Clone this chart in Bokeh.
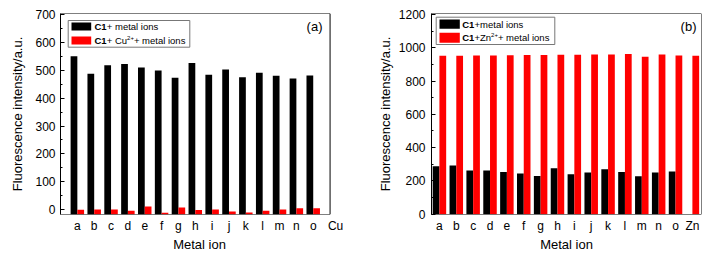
from bokeh.plotting import figure
from bokeh.layouts import row
from bokeh.models import Range1d, FixedTicker, SingleIntervalTicker, Label, BoxAnnotation, ColumnDataSource
from bokeh.embed import file_html
from bokeh.resources import INLINE

# ---------------- data ----------------
cats_a = ["a", "b", "c", "d", "e", "f", "g", "h", "i", "j", "k", "l", "m", "n", "o"]
extra_a = "Cu"
black_a = [550, 487, 518, 522, 510, 499, 473, 526, 484, 502, 475, 491, 480, 470, 481]
red_a = [0, 1, 1, -4, 12, -11, 8, -1, 1, -6, -10, -4, 1, 5, 5]

cats_b = ["a", "b", "c", "d", "e", "f", "g", "h", "i", "j", "k", "l", "m", "n", "o", "Zn"]
black_b = [288, 292, 262, 262, 254, 244, 230, 276, 240, 250, 270, 254, 228, 250, 256, 0]
red_b = [952, 952, 954, 954, 955, 956, 956, 958, 958, 960, 960, 962, 946, 960, 953, 952]

FONT = "Liberation Sans"
H = 201                   # frame height in px
FIG_W, FIG_H = 358, 261
BW = 0.4                  # bar width (category units)
LEG = "9.5px"


def make_fig(cats, black, red, xr, yr, box_r, interval, border_left, border_right,
             ylabel_standoff, tick_standoff, base, tick_pos, tick_labels):
    p = figure(width=FIG_W, height=FIG_H, output_backend="svg", toolbar_location=None,
               x_range=Range1d(*xr), y_range=Range1d(*yr),
               min_border_left=border_left, min_border_right=border_right,
               min_border_top=13, min_border_bottom=FIG_H - 13 - H)
    p.tags = [FIG_W - border_left - border_right]
    p.background_fill_color = "white"
    p.border_fill_color = "white"
    p.outline_line_color = None
    p.xgrid.visible = False
    p.ygrid.visible = False

    xs = list(range(len(cats)))
    src = ColumnDataSource(dict(
        xb=[x - BW / 2 for x in xs],
        xr=[x + BW / 2 for x in xs],
        black=black, red=red,
        base=[base] * len(cats)))
    p.vbar(x="xb", width=BW, bottom="base", top="black", source=src,
           fill_color="black", line_color=None)
    p.vbar(x="xr", width=BW, bottom="base", top="red", source=src,
           fill_color="#ff0000", line_color=None)

    # frame box (drawn so that it can stop short of the last tick label)
    p.add_layout(BoxAnnotation(left=xr[0], right=box_r, bottom=yr[0], top=yr[1],
                               fill_alpha=0, line_color="black", line_width=1,
                               line_alpha=1, line_dash="solid", editable=False))

    # x axis
    p.xaxis.ticker = FixedTicker(ticks=tick_pos)
    p.xaxis.major_label_overrides = {t: c for t, c in zip(tick_pos, tick_labels)}
    p.xaxis.major_tick_out = 0
    p.xaxis.major_tick_in = 0
    p.xaxis.major_tick_line_color = None
    p.xaxis.minor_tick_line_color = None
    p.xaxis.axis_line_color = None
    p.xaxis.major_label_standoff = 4
    p.xaxis.axis_label = "Metal ion"
    p.xaxis.axis_label_standoff = 1

    # y axis
    p.yaxis.ticker = SingleIntervalTicker(interval=interval, num_minor_ticks=2)
    p.yaxis.major_tick_in = 4
    p.yaxis.major_tick_out = 0
    p.yaxis.minor_tick_in = 2
    p.yaxis.minor_tick_out = 0
    p.yaxis.major_tick_line_color = "black"
    p.yaxis.minor_tick_line_color = "black"
    p.yaxis.axis_line_color = "black"
    p.yaxis.major_label_standoff = tick_standoff
    p.yaxis.axis_label = "Fluorescence intensity/a.u."
    p.yaxis.axis_label_standoff = ylabel_standoff

    for ax in (p.xaxis, p.yaxis):
        ax.major_label_text_font = FONT
        ax.major_label_text_font_size = "12px"
        ax.major_label_text_color = "black"
        ax.axis_label_text_font = FONT
        ax.axis_label_text_font_size = "13px"
        ax.axis_label_text_font_style = "normal"
        ax.axis_label_text_color = "black"
    return p


def conv(p, px, py):
    """frame-relative px -> data coords"""
    W = p.tags[0]
    x0, x1 = p.x_range.start, p.x_range.end
    y0, y1 = p.y_range.start, p.y_range.end
    return x0 + px * (x1 - x0) / W, y1 - py * (y1 - y0) / H


def box(p, l, t, r, b, fill, line):
    L, T = conv(p, l, t)
    R, B = conv(p, r, b)
    p.add_layout(BoxAnnotation(left=L, right=R, top=T, bottom=B,
                               fill_color=fill if fill else "white",
                               fill_alpha=1 if fill else 0,
                               line_color=line if line else "white",
                               line_width=1, line_alpha=1 if line else 0,
                               line_dash="solid", editable=False))


def text(p, px, py, s, size=LEG, bold=False, align="left", baseline="middle"):
    p.add_layout(Label(x=p.x_range.start, y=p.y_range.end, x_offset=px, y_offset=-py,
                       text=s, text_font=FONT, text_font_size=size,
                       text_font_style="bold" if bold else "normal",
                       text_color="black", text_align=align, text_baseline=baseline))


# ---------------- panel (a) ----------------
ticks_a = list(range(len(cats_a))) + [len(cats_a) + 0.33]
pa = make_fig(cats_a, black_a, red_a, (-1, 15.5), (-17, 703), 15, 100,
              60, 20, 7, 5, -17, ticks_a, cats_a + [extra_a])
# legend (frame-relative px: frame left=60, top=13)
box(pa, 7.7, 7, 129.3, 33.7, "white", "#777777")
box(pa, 11, 9, 30.7, 17, "black", None)
box(pa, 11, 23, 30.7, 31, "#ff0000", None)
text(pa, 34, 13, "C1", bold=True)
text(pa, 46.3, 13, "+ metal ions")
text(pa, 34, 27, "C1", bold=True)
text(pa, 46.3, 27, "+ Cu")
text(pa, 66.6, 24, "2+", size="6px")
text(pa, 73.4, 27, "+ metal ions")
text(pa, 262, 13, "(a)", size="13px", align="right")

# ---------------- panel (b) ----------------
ticks_b = list(range(len(cats_b)))
pb = make_fig(cats_b, black_b, red_b, (-0.47, 15.54), (-2, 1206), 15.54, 200,
              73, 15, 3, 6, 0, ticks_b, cats_b)
# legend (frame-relative px: frame left=431, top=13)
box(pb, 4.7, 3.7, 123.3, 31, "white", "#777777")
box(pb, 8, 6, 28.3, 15.3, "black", None)
box(pb, 8, 19.3, 28.3, 29.3, "#ff0000", None)
text(pb, 30.7, 10.7, "C1", bold=True)
text(pb, 43, 10.7, "+metal ions")
text(pb, 30.7, 24.3, "C1", bold=True)
text(pb, 43, 24.3, "+Zn")
text(pb, 59.6, 21.3, "2+", size="6px")
text(pb, 66.4, 24.3, "+ metal ions")
text(pb, 265, 13, "(b)", size="13px", align="right")

layout = row(pa, pb)
open("out.html", "w").write(file_html(layout, INLINE))
